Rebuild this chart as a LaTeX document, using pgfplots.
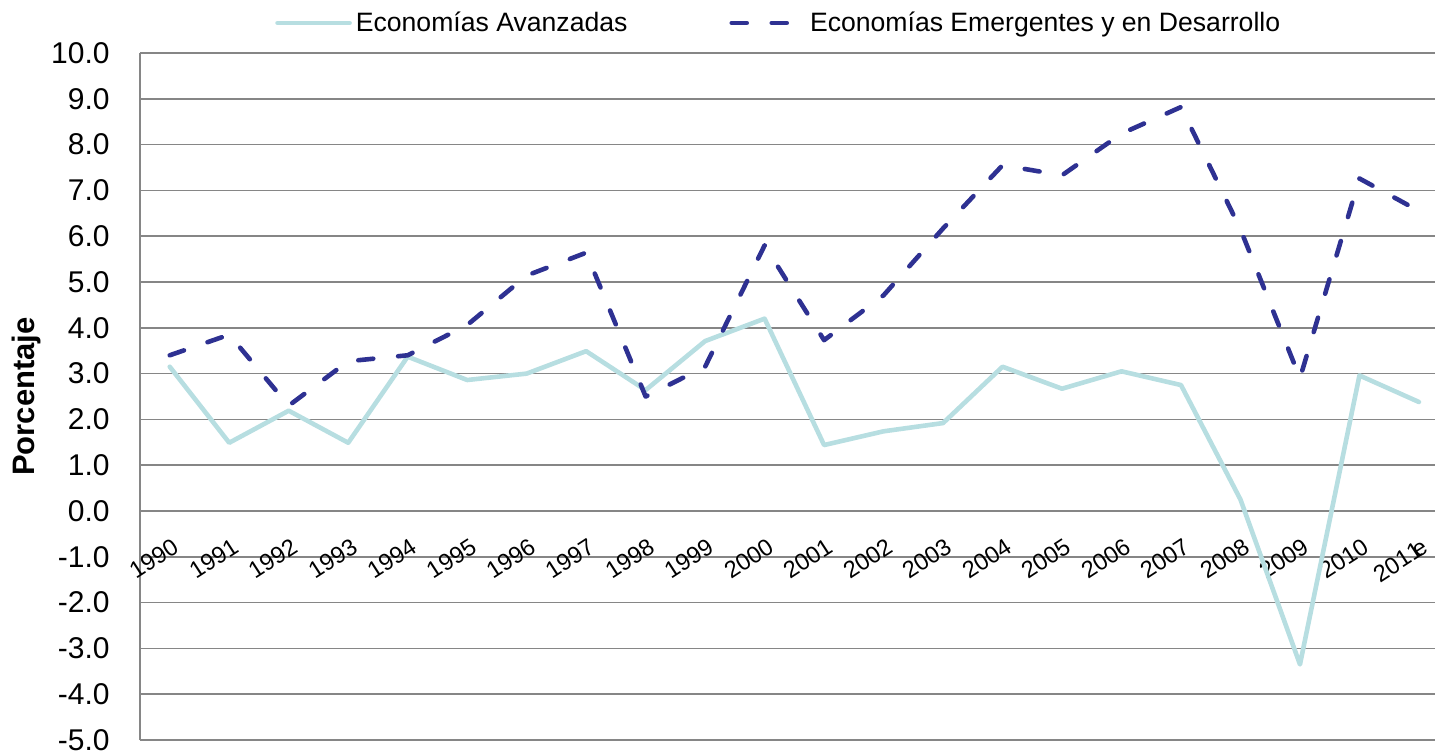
\documentclass[border=0pt]{standalone}
\usepackage{pgfplots}
\pgfplotsset{compat=1.18}
\usepackage{fontspec}
\setmainfont{Liberation Sans}
\definecolor{adv}{RGB}{183,222,225}
\definecolor{emg}{RGB}{46,49,146}
\definecolor{gridc}{RGB}{134,134,134}
\begin{document}
\begin{tikzpicture}
\useasboundingbox (-70pt,-6pt) rectangle (647.5pt,370pt);
\begin{axis}[
  at={(0,0)}, anchor=south west,
  scale only axis, width=647.5pt, height=343.5pt,
  xmin=-0.5, xmax=21.27, ymin=-5, ymax=10,
  axis x line=bottom, axis y line=left,
  axis line style={gridc, line width=0.8pt, -},
  tick style={draw=none}, major tick length=0pt,
  ymajorgrids, grid style={gridc, line width=0.8pt},
  ytick={-5,...,10},
  /pgf/number format/fixed, /pgf/number format/fixed zerofill, /pgf/number format/precision=1,
  /pgf/number format/assume math mode=true,
  yticklabel style={font=\fontsize{15}{18}\selectfont, anchor=east, inner sep=0pt, xshift=-15pt},
  xtick={0,...,21},
  xticklabels={1990,1991,1992,1993,1994,1995,1996,1997,1998,1999,2000,2001,2002,2003,2004,2005,2006,2007,2008,2009,2010,{201\makebox[0.25em][l]{1}e}},
  xticklabel style={yshift=101.5pt, xshift=1pt, font=\fontsize{11.8}{14}\selectfont, rotate=33, anchor=north east, inner sep=0pt},
  ylabel={Porcentaje},
  ylabel style={at={(axis description cs:-0.0880,0.5)}, anchor=center, font=\fontsize{15.5}{18}\selectfont\bfseries},
  legend columns=2,
  legend style={draw=none, fill=none, at={(rel axis cs:0.494,1.0437)}, anchor=center,
    font=\fontsize{13.3}{16}\selectfont,
    /tikz/every even column/.append style={column sep=49pt},
    nodes={inner sep=2pt}},
  legend image code/.code={\draw[#1] (0pt,0pt) -- (36pt,0pt);},
  clip=false,
]
\addplot[adv, line width=2.3pt, line join=round, line cap=round] coordinates {
(0,3.15) (1,1.49) (2,2.19) (3,1.49) (4,3.37) (5,2.86) (6,3.00) (7,3.49) (8,2.64) (9,3.71) (10,4.20)
(11,1.44) (12,1.74) (13,1.92) (14,3.15) (15,2.67) (16,3.05) (17,2.75) (18,0.25) (19,-3.35) (20,2.96) (21,2.38)};
\addlegendentry{Economías Avanzadas}
\addplot[emg, line width=2.3pt, line cap=round, line join=round, dash pattern=on 7.5pt off 12.5pt] coordinates {
(0,3.40) (1,3.85) (2,2.30) (3,3.27) (4,3.40) (5,4.06) (6,5.14) (7,5.64) (8,2.50) (9,3.15) (10,5.80)
(11,3.73) (12,4.71) (13,6.17) (14,7.55) (15,7.33) (16,8.24) (17,8.82) (18,6.15) (19,2.90) (20,7.26) (21,6.55)};
\addlegendentry{Economías Emergentes y en Desarrollo}
\end{axis}
\end{tikzpicture}
\end{document}
